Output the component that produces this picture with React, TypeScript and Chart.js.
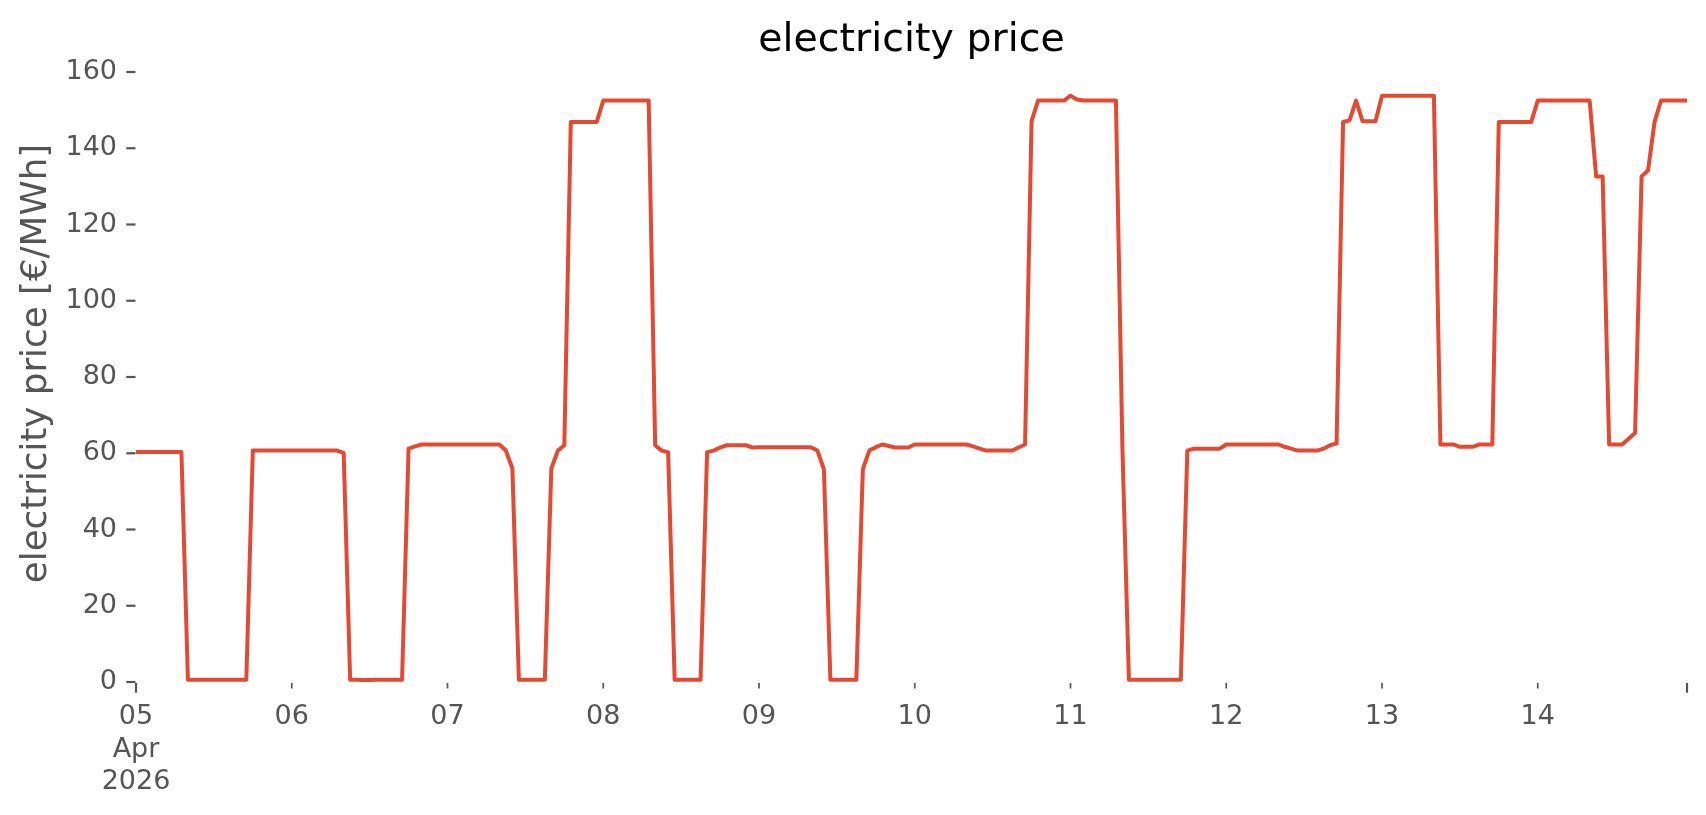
import React, { useEffect, useRef } from 'react';
import { Chart, registerables } from 'chart.js';

Chart.register(...registerables);

// ---- text ----
const TITLE = 'electricity price';
const Y_LABEL = 'electricity price [€/MWh]';
const DAY_LABELS = ['05', '06', '07', '08', '09', '10', '11', '12', '13', '14'];
const MONTH_LABEL = 'Apr';
const YEAR_LABEL = '2026';
const Y_MIN = 0;
const Y_MAX = 160;
const Y_STEP = 20;

// ---- hourly prices [€/MWh], one array per day (00:00 .. 23:00) ----
const day05 = [60.3, 60.3, 60.3, 60.3, 60.3, 60.3, 60.3, 60.3, 0.6, 0.6, 0.6, 0.6, 0.6, 0.6, 0.6, 0.6, 0.6, 0.6, 60.7, 60.7, 60.7, 60.7, 60.7, 60.7];
const day06 = [60.7, 60.7, 60.7, 60.7, 60.7, 60.7, 60.7, 60.7, 60.1, 0.6, 0.6, 0.5, 0.5, 0.6, 0.6, 0.6, 0.6, 0.6, 61.2, 61.8, 62.3, 62.3, 62.3, 62.3];
const day07 = [62.3, 62.3, 62.3, 62.3, 62.3, 62.3, 62.3, 62.3, 62.3, 60.7, 56.0, 0.6, 0.6, 0.6, 0.6, 0.6, 56.0, 60.7, 62.1, 146.9, 146.9, 146.9, 146.9, 146.9];
const day08 = [152.5, 152.5, 152.5, 152.5, 152.5, 152.5, 152.5, 152.5, 62.1, 60.7, 60.3, 0.6, 0.6, 0.6, 0.6, 0.6, 60.3, 60.7, 61.5, 62.1, 62.1, 62.1, 62.1, 61.5];
const day09 = [61.6, 61.6, 61.6, 61.6, 61.6, 61.6, 61.6, 61.6, 61.6, 60.7, 55.8, 0.6, 0.6, 0.6, 0.6, 0.6, 55.8, 60.7, 61.6, 62.3, 61.9, 61.5, 61.5, 61.5];
const day10 = [62.3, 62.3, 62.3, 62.3, 62.3, 62.3, 62.3, 62.3, 62.3, 61.8, 61.2, 60.7, 60.7, 60.7, 60.7, 60.7, 61.5, 62.3, 147.1, 152.5, 152.5, 152.5, 152.5, 152.5];
const day11 = [153.8, 152.8, 152.5, 152.5, 152.5, 152.5, 152.5, 152.5, 61.5, 0.6, 0.6, 0.6, 0.6, 0.6, 0.6, 0.6, 0.6, 0.6, 60.7, 61.2, 61.2, 61.2, 61.2, 61.2];
const day12 = [62.3, 62.3, 62.3, 62.3, 62.3, 62.3, 62.3, 62.3, 62.3, 61.7, 61.2, 60.7, 60.7, 60.7, 60.7, 61.2, 62.1, 62.6, 146.9, 147.3, 152.5, 147.1, 147.1, 147.1];
const day13 = [153.8, 153.8, 153.8, 153.8, 153.8, 153.8, 153.8, 153.8, 153.8, 62.3, 62.3, 62.3, 61.7, 61.7, 61.7, 62.3, 62.3, 62.3, 146.9, 146.9, 146.9, 146.9, 146.9, 146.9];
const day14 = [152.5, 152.5, 152.5, 152.5, 152.5, 152.5, 152.5, 152.5, 152.5, 132.6, 132.6, 62.3, 62.3, 62.3, 63.8, 65.3, 132.6, 134.2, 146.9, 152.5, 152.5, 152.5, 152.5, 152.5];

const DAYS = [day05, day06, day07, day08, day09, day10, day11, day12, day13, day14];

const FONT = '"DejaVu Sans", "Noto Sans", sans-serif';
const LINE_COLOR = '#E24A33';
const AXIS_TEXT = '#555555';

export default function App() {
  const canvasRef = useRef<HTMLCanvasElement | null>(null);

  useEffect(() => {
    const canvas = canvasRef.current;
    if (!canvas) return;

    const prices: number[] = ([] as number[]).concat(...DAYS);
    const points = prices.map((v, i) => ({ x: i, y: v }));
    const lastHour = prices.length - 1;
    const dayStarts = DAYS.map((d, i) => DAYS.slice(0, i).reduce((s, a) => s + a.length, 0));
    const xTickValues = dayStarts.concat([lastHour]);

    const decorations = {
      id: 'decorations',
      afterDraw(chart: any) {
        const { ctx, chartArea, scales } = chart;
        ctx.save();
        ctx.strokeStyle = AXIS_TEXT;
        ctx.lineCap = 'butt';
        const ys = scales.y;
        ys.ticks.forEach((t: any) => {
          const py = ys.getPixelForValue(t.value);
          ctx.lineWidth = 2.2;
          ctx.beginPath();
          ctx.moveTo(chartArea.left - 9.7, py);
          ctx.lineTo(chartArea.left - 0.5, py);
          ctx.stroke();
        });
        const xs = scales.x;
        const last = xs.ticks.length - 1;
        xs.ticks.forEach((t: any, i: number) => {
          const px = xs.getPixelForValue(t.value);
          const major = i === 0 || i === last;
          ctx.lineWidth = major ? 2.2 : 1.7;
          const len = major ? 9.7 : 5.5;
          ctx.beginPath();
          ctx.moveTo(px, chartArea.bottom + 1);
          ctx.lineTo(px, chartArea.bottom + 1 + len);
          ctx.stroke();
        });
        // title
        ctx.fillStyle = '#000000';
        ctx.font = `39.5px ${FONT}`;
        ctx.textAlign = 'center';
        ctx.textBaseline = 'alphabetic';
        ctx.fillText(TITLE, (chartArea.left + chartArea.right) / 2, 51);
        // y label
        ctx.save();
        ctx.translate(36.4, 363.5);
        ctx.rotate(-Math.PI / 2);
        ctx.fillStyle = AXIS_TEXT;
        ctx.font = `35.7px ${FONT}`;
        ctx.textAlign = 'center';
        ctx.textBaseline = 'middle';
        ctx.fillText(Y_LABEL, 0, 0);
        ctx.restore();
        ctx.restore();
      },
    };

    const chart = new Chart(canvas, {
      type: 'line',
      data: {
        datasets: [
          {
            label: Y_LABEL,
            data: points,
            borderColor: LINE_COLOR,
            backgroundColor: LINE_COLOR,
            borderWidth: 4,
            borderJoinStyle: 'round',
            pointRadius: 0,
            pointHoverRadius: 0,
            tension: 0,
            fill: false,
          },
        ],
      },
      options: {
        animation: false,
        responsive: false,
        devicePixelRatio: 1,
        layout: { padding: { top: 72, right: 19, bottom: 0, left: 0 } },
        plugins: {
          legend: { display: false },
          tooltip: { enabled: false },
          title: { display: false },
        },
        scales: {
          x: {
            type: 'linear',
            min: 0,
            max: lastHour,
            grid: { display: false, drawTicks: false },
            border: { display: false },
            afterBuildTicks: (scale: any) => {
              scale.ticks = xTickValues.map((v) => ({ value: v }));
            },
            afterFit: (scale: any) => {
              scale.height = 133;
            },
            ticks: {
              autoSkip: false,
              maxRotation: 0,
              minRotation: 0,
              padding: 19,
              color: AXIS_TEXT,
              font: { family: FONT, size: 27, lineHeight: 1.2 },
              callback: (_v: any, index: number) => {
                if (index === 0) return [DAY_LABELS[0], MONTH_LABEL, YEAR_LABEL];
                if (index < DAY_LABELS.length) return DAY_LABELS[index];
                return '';
              },
            },
          },
          y: {
            type: 'linear',
            min: Y_MIN,
            max: Y_MAX,
            grid: { display: false, drawTicks: false },
            border: { display: false },
            afterFit: (scale: any) => {
              scale.width = 136;
            },
            ticks: {
              stepSize: Y_STEP,
              padding: 19,
              color: AXIS_TEXT,
              font: { family: FONT, size: 27 },
            },
          },
        },
      },
      plugins: [decorations],
    } as any);

    return () => {
      chart.destroy();
    };
  }, []);

  return (
    <div style={{ position: 'absolute', left: 0, top: 0, width: 1706, height: 815, background: '#ffffff' }}>
      <canvas ref={canvasRef} width={1706} height={815} style={{ width: 1706, height: 815, display: 'block' }} />
    </div>
  );
}
